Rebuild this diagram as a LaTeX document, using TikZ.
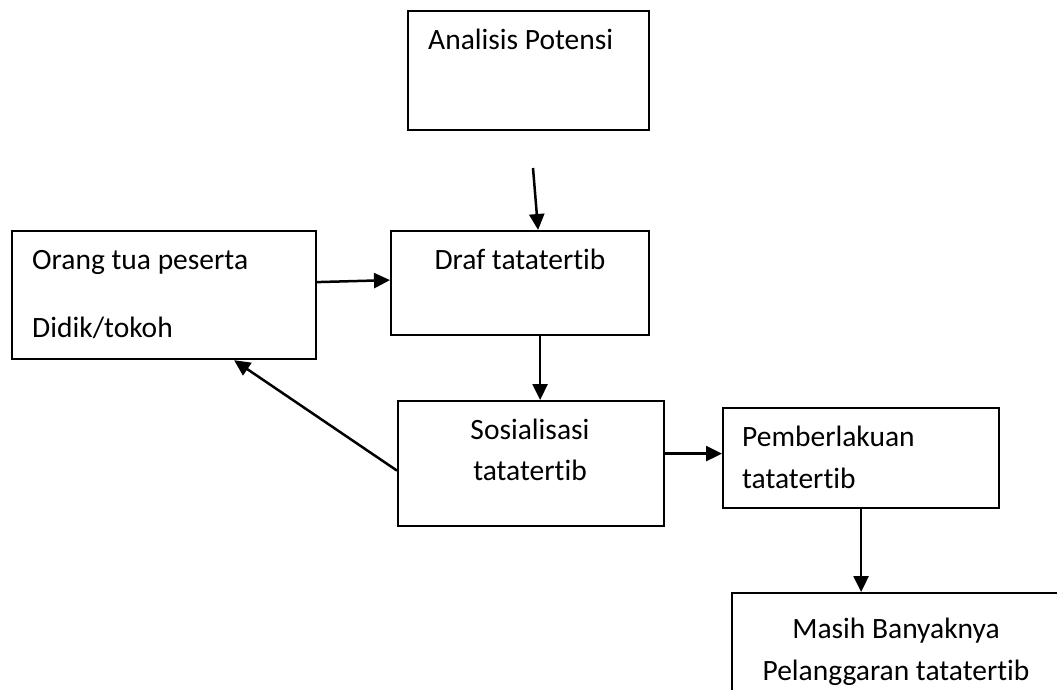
\documentclass[tikz,border=0pt]{standalone}
\usepackage{fontspec}
\setmainfont[Ligatures={NoCommon,NoContextual},RawFeature={-calt;-liga;-clig}]{Carlito}
\usetikzlibrary{arrows.meta,positioning}

\begin{document}
\begin{tikzpicture}[x=1pt,y=-1pt,
box/.style={draw,line width=2.2pt,inner sep=0pt,anchor=north west},
txt/.style={inner sep=0pt,font=\fontsize{29.5}{42}\selectfont,align=left},
arr/.style={-{Triangle[length=16pt,width=15pt]},line width=2.5pt}]
\clip (0,0) rectangle (1057,689);
\node[box,minimum width=241pt,minimum height=119pt] (analisis) at (407,10) {};
\node[box,minimum width=304pt,minimum height=128pt] (orang) at (11,230) {};
\node[box,minimum width=258pt,minimum height=104pt] (draf) at (390,230) {};
\node[box,minimum width=266pt,minimum height=125pt] (sos) at (397,400) {};
\node[box,minimum width=276pt,minimum height=100pt] (pember) at (722,407) {};
\node[box,minimum width=400pt,minimum height=200pt] (masih) at (731,592) {};
\node[txt,anchor=base west] (analisisT) at (428,49) {Analisis Potensi};
\node[txt,anchor=base west,font=\fontsize{29.5}{68}\selectfont] (orangT) at (32,337) {Orang tua peserta\\Didik/tokoh};
\node[txt,anchor=base] (drafT) at (520,269) {Draf tatatertib};
\node[txt,anchor=base,align=center,font=\fontsize{29.5}{41}\selectfont] (sosT) at (530,480) {Sosialisasi\\tatatertib};
\node[txt,anchor=base west] (pemberT) at (742,488) {Pemberlakuan\\tatatertib};
\node[txt,anchor=base,align=center] (masihT) at (896,680) {Masih Banyaknya\\Pelanggaran tatatertib};
\coordinate (arrtop) at (533,168);
\draw[arr] (arrtop) -- ([xshift=18pt]draf.north);
\draw[arr] ([yshift=13pt]orang.east) -- ([yshift=3pt]draf.west);
\draw[arr] ([xshift=20pt]draf.south) -- ([xshift=20pt]draf.south |- sos.north);
\draw[arr] ([yshift=-7pt]sos.west) -- ([xshift=70pt]orang.south);
\draw[arr] ([yshift=10pt]sos.east) -- ([yshift=10pt]sos.east -| pember.west);
\draw[arr] (pember.south) -- (pember.south |- masih.north);
\end{tikzpicture}
\end{document}
